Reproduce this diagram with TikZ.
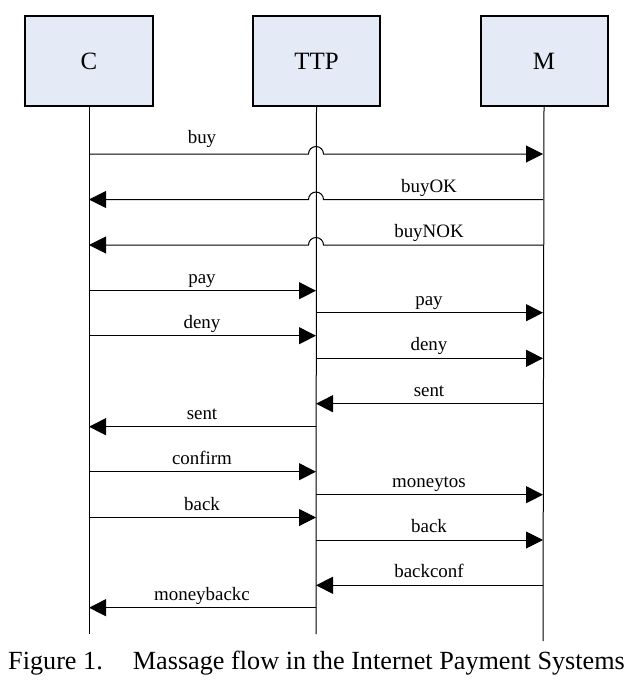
\documentclass[tikz,border=0pt]{standalone}
\usepackage{fontspec}
\setmainfont{Liberation Serif}
\usetikzlibrary{arrows.meta}
\definecolor{boxfill}{RGB}{228,235,247}
\begin{document}
\begin{tikzpicture}[x=1bp,y=-1bp,
  actor/.style={draw,line width=2bp,fill=boxfill,minimum width=127bp,minimum height=89bp,inner sep=0pt,font=\fontsize{25}{29}\selectfont},
  lifeline/.style={line width=1bp},
  msg/.style={line width=1bp,-{Triangle[length=17bp,width=17bp]}},
  lbl/.style={font=\fontsize{19}{22}\selectfont,anchor=base,inner sep=0pt}]
\useasboundingbox (0,0) rectangle (637,696);
\def\xc{89}\def\xt{316}\def\xm{543}
% actors
\node[actor] (C) at (89,61) {C};
\node[actor] (T) at (316.5,61) {TTP};
\node[actor] (M) at (544,61) {M};
% lifelines
\coordinate (Cend) at (\xc,634);
\coordinate (Tend) at (\xt,634);
\coordinate (Mend) at (\xm,641);
\draw[lifeline] (C.south) -- (Cend);
\draw[lifeline] (T.south) -- (Tend);
\draw[lifeline] (M.south) -- (Mend);
% message end points
\foreach \n/\y in {1/154,2/199.5,3/245,4/290.7,5/312.7,6/335.7,7/358.3,8/403.7,9/426.7,10/471.7,11/494.7,12/517.5,13/540,14/585.3,15/607.7}{
  \coordinate (c\n) at (\xc,\y);
  \coordinate (t\n) at (\xt,\y);
  \coordinate (m\n) at (\xm,\y);
}
% messages with hops over TTP lifeline
\draw[msg] (c1) -- ({\xt-7.5},154) arc[start angle=180,end angle=0,radius=7.5bp] -- (m1);
\draw[msg] (m2) -- ({\xt+7.5},199.5) arc[start angle=0,end angle=180,radius=7.5bp] -- (c2);
\draw[msg] (m3) -- ({\xt+7.5},245) arc[start angle=0,end angle=180,radius=7.5bp] -- (c3);
% other messages
\draw[msg] (c4) -- (t4);
\draw[msg] (t5) -- (m5);
\draw[msg] (c6) -- (t6);
\draw[msg] (t7) -- (m7);
\draw[msg] (m8) -- (t8);
\draw[msg] (t9) -- (c9);
\draw[msg] (c10) -- (t10);
\draw[msg] (t11) -- (m11);
\draw[msg] (c12) -- (t12);
\draw[msg] (t13) -- (m13);
\draw[msg] (m14) -- (t14);
\draw[msg] (t15) -- (c15);
% labels
\def\xl{202}\def\xr{429}
\node[lbl] (l1) at (\xl,143.5) {buy};
\node[lbl] (l2) at (\xr,192) {buyOK};
\node[lbl] (l3) at (\xr,237.5) {buyNOK};
\node[lbl] (l4) at (\xl,283.2) {pay};
\node[lbl] (l5) at (\xr,305.2) {pay};
\node[lbl] (l6) at (\xl,328.2) {deny};
\node[lbl] (l7) at (\xr,350.8) {deny};
\node[lbl] (l8) at (\xr,396.2) {sent};
\node[lbl] (l9) at (\xl,419.2) {sent};
\node[lbl] (l10) at (\xl,464.2) {confirm};
\node[lbl] (l11) at (\xr,487.2) {moneytos};
\node[lbl] (l12) at (\xl,510) {back};
\node[lbl] (l13) at (\xr,532.5) {back};
\node[lbl] (l14) at (\xr,577.8) {backconf};
\node[lbl] (l15) at (\xl,600.2) {moneybackc};
% caption
\node[font=\fontsize{26.3}{30}\selectfont,anchor=base west,inner sep=0pt] (cap) at (8,669.5) {Figure 1.\hspace{1.15em}Massage flow in the Internet Payment Systems};
\end{tikzpicture}
\end{document}
